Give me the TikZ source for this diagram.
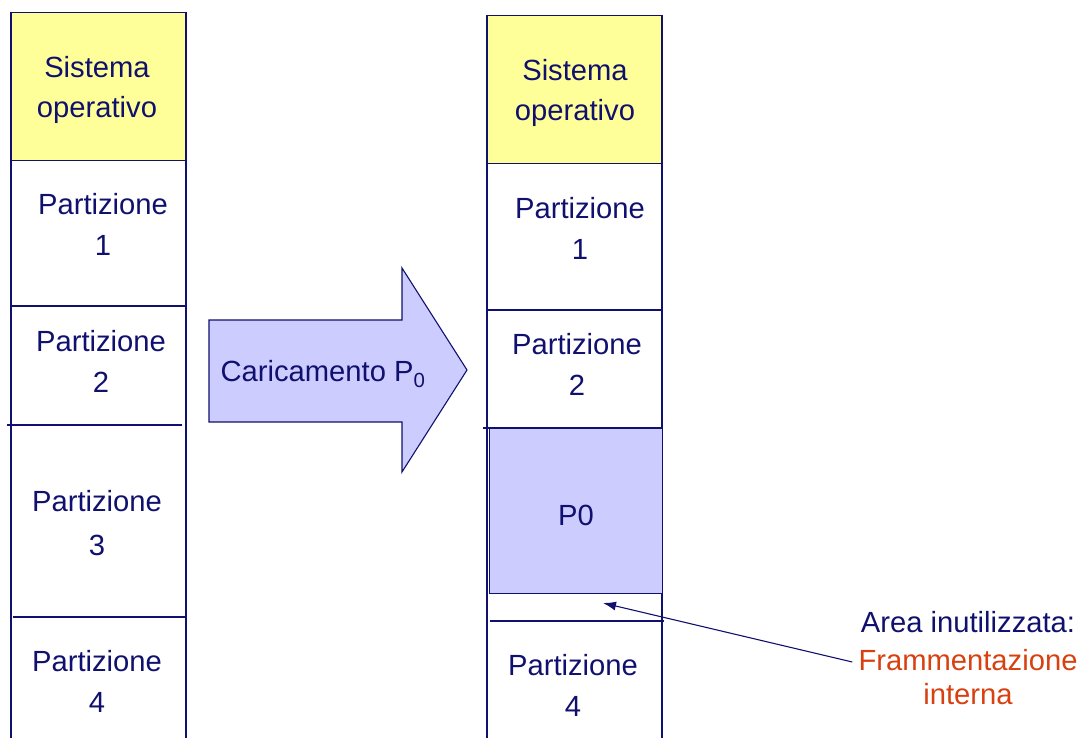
\documentclass[tikz,border=0pt]{standalone}
\usepackage{fontspec}
\setmainfont{Liberation Sans}
\usetikzlibrary{arrows.meta}
\definecolor{navy}{RGB}{16,16,110}
\definecolor{osyellow}{RGB}{255,255,153}
\definecolor{pblue}{RGB}{204,204,255}
\definecolor{fragred}{RGB}{216,64,16}
\begin{document}
\begin{tikzpicture}[x=1bp,y=-1bp,
  every node/.style={font=\fontsize{29.3}{41}\selectfont, text=navy, align=center, inner sep=0pt},
  frame/.style={draw=navy, line width=1.1bp},
  osbox/.style={frame, fill=osyellow, anchor=north west, minimum width=175bp, minimum height=148bp},
  pbox/.style={frame, fill=pblue, anchor=north west},
  sep/.style={draw=navy, line width=1.1bp}]
\useasboundingbox (0,0) rectangle (1086,738);
% left column
\node[osbox] (osL) at (11,12) {};
\node (osLt) at (97,90) {Sistema\\operativo};
\draw[sep] (11,12) -- (11,738);
\draw[sep] (186,12) -- (186,738);
\draw[sep] (11,306) -- (186,306);
\draw[sep] (7,425) -- (182,425);
\draw[sep] (13,617) -- (187,617);
\node (pL1) at (103,224) {Partizione\\1};
\node (pL2) at (101,361) {Partizione\\2};
\node[font=\fontsize{29.3}{45}\selectfont] (pL3) at (97,523) {Partizione\\3};
\node (pL4) at (97,681) {Partizione\\4};
% right column
\node[osbox] (osR) at (487,15) {};
\node (osRt) at (575,93) {Sistema\\operativo};
\draw[sep] (487,15) -- (487,738);
\draw[sep] (662,15) -- (662,738);
\draw[sep] (487,310) -- (662,310);
\draw[sep] (483,428) -- (662,428);
\node[pbox, minimum width=173bp, minimum height=165bp] (p0) at (489,428) {};
\node (p0t) at (576,515) {P0};
\draw[sep] (490,621) -- (664,621);
\node (pR1) at (580,228) {Partizione\\1};
\node (pR2) at (577,364) {Partizione\\2};
\node (pR4) at (573,685) {Partizione\\4};
% big arrow
\draw[frame, fill=pblue, line join=miter] (209,320) -- (402,320) -- (402,268) -- (467,370) -- (402,472) -- (402,422) -- (209,422) -- cycle;
\node (load) at (323,374) {Caricamento P\textsubscript{0}};
% annotation
\node (area) at (968,622) {Area inutilizzata:};
\node[text=fragred] (frag) at (968,660) {Frammentazione};
\node[text=fragred] (intern) at (968,694) {interna};
\coordinate (gap) at (603,603);
\draw[navy, line width=1.1bp, -{Latex[length=13bp,width=9bp]}] ([xshift=-6bp,yshift=-2bp]frag.west) -- (gap);
\end{tikzpicture}
\end{document}
